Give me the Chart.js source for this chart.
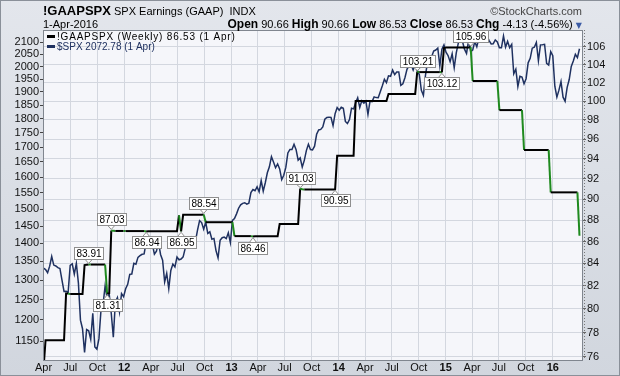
<!DOCTYPE html>
<html><head><meta charset="utf-8">
<script src="https://cdn.jsdelivr.net/npm/chart.js@4.4.1/dist/chart.umd.min.js"></script>
<style>
html,body{margin:0;padding:0;background:#fff;}
#wrap{position:relative;width:620px;height:376px;overflow:hidden;}
#c{position:absolute;left:0;top:0;}
.h{position:absolute;white-space:nowrap;font-family:"Liberation Sans",Arial,sans-serif;color:#000;line-height:1;}
.h b{font-size:12px;}
.tri{font-family:"DejaVu Sans",sans-serif;font-size:8px;color:#3b5ba5;}
</style></head><body>
<div id="wrap">
<canvas id="c" width="620" height="376"></canvas>
<div class="h" style="left:43px;top:4px;font-size:13px;font-weight:bold;">!GAAPSPX</div>
<div class="h" style="left:114px;top:6px;font-size:11px;">SPX Earnings (GAAP)&nbsp; INDX</div>
<div class="h" style="right:38px;top:6px;font-size:11px;color:#444;">©StockCharts.com</div>
<div class="h" style="left:43px;top:19px;font-size:11px;">1-Apr-2016</div>
<div class="h" id="ohlc" style="right:38px;top:18px;font-size:11px;"></div>
</div>
<script>
// ---------- DATA ----------
const startDate = '2011-04-01';           // first weekly bar
const lastLabel = '1 Apr';
// S&P 500 weekly closes
const spx2011 = [1332.41,1328.17,1319.68,1337.38,1363.61,1340.20,1337.77,1333.27,1331.10,1300.16,1270.98,1271.50,1268.45,1339.67,1343.80,1316.14,1345.02,1292.28,1199.38,1178.81,1123.53,1176.80,1173.97,1154.23,1216.01,1136.43,1131.42,1155.46,1224.58,1238.25,1285.09,1253.23,1263.85,1215.65,1158.67,1244.28,1255.19,1219.66,1265.33,1257.60];
const spx2012 = [1277.81,1289.09,1315.38,1316.33,1344.90,1342.64,1361.23,1365.74,1369.63,1370.87,1404.17,1397.11,1408.47,1398.08,1370.26,1378.53,1403.36,1369.10,1353.39,1295.22,1317.82,1278.04,1325.66,1342.84,1335.02,1362.16,1354.68,1356.78,1362.66,1385.97,1390.99,1405.87,1418.16,1411.13,1406.58,1437.92,1465.77,1460.15,1440.67,1460.93,1428.59,1433.19,1411.94,1414.20,1379.85,1359.88,1409.15,1416.18,1418.07,1413.58,1430.15,1402.43];
const spx2013 = [1466.47,1472.05,1485.98,1502.96,1513.17,1517.93,1519.79,1515.60,1518.20,1551.18,1560.70,1556.89,1569.19,1553.28,1588.85,1555.25,1582.24,1614.42,1633.70,1667.47,1649.60,1630.74,1643.38,1626.73,1592.43,1606.28,1631.89,1680.19,1692.09,1691.65,1709.67,1691.42,1655.83,1663.50,1632.97,1655.17,1687.99,1709.91,1691.75,1690.50,1703.20,1744.50,1759.77,1761.64,1770.61,1798.18,1804.76,1805.81,1805.09,1775.32,1818.32,1841.40];
const spx2014 = [1831.37,1842.37,1838.70,1790.29,1782.59,1797.02,1838.63,1836.25,1859.45,1878.04,1841.13,1866.52,1857.62,1865.09,1815.69,1864.85,1863.40,1881.14,1878.48,1877.86,1900.53,1923.57,1949.44,1936.16,1962.87,1960.96,1985.44,1967.57,1978.22,1978.34,1925.15,1931.59,1955.06,1988.40,2003.37,2007.71,1985.54,2010.40,1982.85,1967.90,1906.13,1886.76,1964.58,2018.05,2031.92,2039.82,2063.50,2067.56,2075.37,2002.33,2070.65,2088.77];
const spx2015 = [2058.20,2044.81,2019.42,2051.82,1994.99,2055.47,2096.99,2110.30,2104.50,2071.26,2053.40,2108.10,2061.02,2066.96,2102.06,2081.18,2117.69,2108.29,2116.10,2122.73,2126.06,2107.39,2092.83,2094.11,2109.99,2101.49,2076.78,2076.62,2126.64,2079.65,2103.84,2077.57,2091.54,1970.89,1988.87,1921.22,1961.05,1958.03,1931.34,1951.36,2014.89,2033.11,2075.15,2079.36,2099.20,2023.04,2089.17,2090.11,2091.69,2012.37,2005.55,2060.99];
const spx2016 = [2043.94,1922.03,1880.33,1906.90,1940.24,1880.05,1864.78,1917.78,1948.05,1999.99,2022.19,2049.58,2035.94,2072.78];
// S&P 500 GAAP earnings, weekly
const eps2011 = [75.00,
 77.35,77.35,77.35,77.35,77.35,77.35,77.35,77.35,77.35,77.35,
 81.33,81.33,81.28,81.28,81.28,81.28,81.28,81.28,81.28,
 83.85,83.88,83.91,83.90,83.90,83.90,83.90,83.90,83.90,83.90,83.90,
 81.31,81.35,87.03,86.99,86.98,86.98,86.98,86.98,86.98];
const eps2012 = [86.97,86.97,86.97,86.97,86.97,86.97,86.97,86.97,86.97,86.97,
 86.94,
 86.96,86.96,86.96,86.96,86.96,86.96,86.96,86.96,86.96,86.96,86.96,86.96,86.96,86.96,86.96,
 88.45,86.95,
 88.50,88.50,88.50,88.50,88.50,88.50,88.50,88.50,88.50,88.50,
 88.54,
 87.80,87.80,87.80,87.80,87.80,87.80,87.80,87.80,87.80,87.80,87.80,87.80,87.80];
const eps2013 = [87.80,
 86.50,86.50,86.50,86.50,86.50,86.50,86.50,86.50,86.50,
 86.46,
 86.48,86.48,86.48,86.48,86.48,86.48,86.48,86.48,86.48,86.48,86.48,86.48,
 87.63,87.63,87.63,87.63,87.63,87.63,87.63,87.63,87.63,87.63,
 91.03,90.97,
 90.95,90.95,90.95,90.95,90.95,90.95,90.95,90.95,90.95,90.95,90.95,90.95,90.95,90.95,90.95,90.95,
 94.30];
const eps2014 = [94.30,94.30,94.30,94.30,94.30,94.30,94.30,94.30,
 100.00,100.00,100.00,100.00,100.00,100.00,100.00,100.00,100.00,100.00,100.00,100.00,100.00,100.00,100.00,100.00,
 100.76,100.76,100.76,100.76,100.76,100.76,100.76,100.76,100.76,100.76,100.76,100.76,100.76,100.76,
 103.21,
 103.15,103.15,103.15,103.15,103.15,103.15,103.15,103.15,103.15,103.15,103.15,
 103.12,105.85];
const eps2015 = [105.90,105.90,105.90,105.90,105.90,105.90,105.90,105.90,105.90,105.90,105.90,105.90,
 105.96,
 102.17,102.17,102.17,102.17,102.17,102.17,102.17,102.17,102.17,102.17,102.17,102.17,102.17,
 99.03,99.03,99.03,99.03,99.03,99.03,99.03,99.03,99.03,99.03,99.03,99.03,
 94.88,94.88,94.88,94.88,94.88,94.88,94.88,94.88,94.88,94.88,94.88,94.88,94.88,
 90.66];
const eps2016 = [90.66,90.66,90.66,90.66,90.66,90.66,90.66,90.66,90.66,90.66,90.66,90.66,90.66,86.53];
// dates of the price-label annotations on the earnings line
const epsLabelDates = ['2011-09-02','2011-11-04','2011-11-18','2012-03-16','2012-07-13','2012-09-28','2013-03-15','2013-08-23','2013-12-20','2014-09-26','2014-12-19','2015-03-27'];
// axes
const leftTicks = [1150,1200,1250,1300,1350,1400,1450,1500,1550,1600,1650,1700,1750,1800,1850,1900,1950,2000,2050,2100];
const rightTicks = [76,78,80,82,84,86,88,90,92,94,96,98,100,102,104,106];
const xTickDates = ['2011-04-01','2011-07-01','2011-10-01','2012-01-01','2012-04-01','2012-07-01','2012-10-01','2013-01-01','2013-04-01','2013-07-01','2013-10-01','2014-01-01','2014-04-01','2014-07-01','2014-10-01','2015-01-01','2015-04-01','2015-07-01','2015-10-01','2016-01-01'];
const xTickLabels = ['Apr','Jul','Oct','12','Apr','Jul','Oct','13','Apr','Jul','Oct','14','Apr','Jul','Oct','15','Apr','Jul','Oct','16'];

// ---------- BUILD ----------
const DAY0 = Date.UTC(2011,0,1);
function dayOf(s){const p=s.split('-').map(Number);return (Date.UTC(p[0],p[1]-1,p[2])-DAY0)/86400000;}
const spx = [].concat(spx2011,spx2012,spx2013,spx2014,spx2015,spx2016);
const eps = [].concat(eps2011,eps2012,eps2013,eps2014,eps2015,eps2016);
const d0 = dayOf(startDate);
const xs = spx.map((_,i)=>d0+7*i);
const n = eps.length;

// header values
(function(){
  const open = eps[n-2], close = eps[n-1];
  const hi = Math.max(open,close), lo = Math.min(open,close);
  const chg = close-open, pct = chg/open*100;
  document.getElementById('ohlc').innerHTML =
    '<b>Open</b> '+open.toFixed(2)+' <b>High</b> '+hi.toFixed(2)+' <b>Low</b> '+lo.toFixed(2)+
    ' <b>Close</b> '+close.toFixed(2)+' <b>Chg</b> '+chg.toFixed(2)+' ('+pct.toFixed(2)+'%) <span class="tri">▼</span>';
})();

const GRID = '#d3d7df';
const bgPlugin = {
  id:'bg',
  beforeDraw(chart){
    const ctx = chart.ctx, a = chart.chartArea, W = chart.width, H = chart.height;
    ctx.save();
    const g = ctx.createLinearGradient(0,0,0,H);
    g.addColorStop(0,'#e3e6ec'); g.addColorStop(1,'#d1d6de');
    ctx.fillStyle = g; ctx.fillRect(0,0,W,H);
    ctx.fillStyle = '#f5f6fa';
    ctx.fillRect(a.left,a.top,a.right-a.left,a.bottom-a.top);
    ctx.restore();
  },
  afterDraw(chart){
    const ctx = chart.ctx, a = chart.chartArea, W = chart.width, H = chart.height;
    const xS = chart.scales.x, yR = chart.scales.yR;
    ctx.save();
    // plot border
    ctx.strokeStyle = '#80868f'; ctx.lineWidth = 1;
    ctx.strokeRect(a.left+0.5, a.top+0.5, a.right-a.left-1, a.bottom-a.top);
    // right dotted axis
    ctx.setLineDash([1,2]); ctx.strokeStyle='#777';
    ctx.beginPath(); ctx.moveTo(a.right+1.5,a.top); ctx.lineTo(a.right+1.5,a.bottom); ctx.stroke();
    ctx.setLineDash([]);
    // outer frame
    ctx.strokeStyle = '#8a9099'; ctx.strokeRect(0.5,0.5,W-1,H-1);
    // price labels
    ctx.font = '10px "Liberation Sans", Arial, sans-serif';
    epsLabelDates.forEach(ds=>{
      const i = Math.round((dayOf(ds)-d0)/7);
      const v = eps[i];
      const prev = eps[i-1], next = eps[i+1];
      const above = v >= prev && v >= next;
      const px = xS.getPixelForValue(xs[i]), py = yR.getPixelForValue(v);
      const t = v.toFixed(2);
      const w = Math.round(ctx.measureText(t).width)+4, h = 12;
      const bx = Math.round(px - w/2)+0.5;
      const by = above ? Math.round(py-5-h)+0.5 : Math.round(py+5)+0.5;
      ctx.fillStyle='#fff'; ctx.strokeStyle='#8f8f8f'; ctx.lineWidth=1;
      ctx.beginPath();
      if(above){ctx.moveTo(px-3.5,by+h);ctx.lineTo(px,py-1);ctx.lineTo(px+3.5,by+h);}
      else{ctx.moveTo(px-3.5,by);ctx.lineTo(px,py+1);ctx.lineTo(px+3.5,by);}
      ctx.fill(); ctx.stroke();
      ctx.fillRect(bx,by,w,h); ctx.strokeRect(bx,by,w,h);
      ctx.fillStyle='#000'; ctx.textAlign='center'; ctx.textBaseline='middle';
      ctx.fillText(t, bx+w/2, by+h/2+0.5);
    });
    // legend
    ctx.textAlign='left'; ctx.textBaseline='middle';
    ctx.lineWidth = 3;
    ctx.strokeStyle='#000'; ctx.beginPath(); ctx.moveTo(47,36.5); ctx.lineTo(55,36.5); ctx.stroke();
    ctx.strokeStyle='#1f3160'; ctx.beginPath(); ctx.moveTo(47,46.5); ctx.lineTo(55,46.5); ctx.stroke();
    ctx.font = '10px "Liberation Sans", Arial, sans-serif';
    ctx.fillStyle='#000';
    if('letterSpacing' in ctx) ctx.letterSpacing='0.8px';
    ctx.fillText('!GAAPSPX (Weekly) '+eps[n-1].toFixed(2)+' ('+lastLabel+')', 57, 37);
    if('letterSpacing' in ctx) ctx.letterSpacing='0px';
    ctx.fillStyle='#1f3160';
    ctx.fillText('$SPX '+spx[n-1].toFixed(2)+' ('+lastLabel+')', 57, 47);
    ctx.restore();
  }
};

const FONT = '"Liberation Sans", Arial, sans-serif';
new Chart(document.getElementById('c'), {
  type:'line',
  data:{datasets:[
    {label:'!GAAPSPX', data: eps.map((v,i)=>({x:xs[i],y:v})), yAxisID:'yR',
     borderColor:'#000', borderWidth:2, pointRadius:0, tension:0, clip:0,
     segment:{borderColor: c => c.p1.parsed.y < c.p0.parsed.y ? '#1f8a1f' : '#000'}},
    {label:'$SPX', data: spx.map((v,i)=>({x:xs[i],y:v})), yAxisID:'yL',
     borderColor:'#1f3160', borderWidth:1.5, pointRadius:0, tension:0, clip:0}
  ]},
  options:{
    responsive:false, animation:false, events:[],
    layout:{padding:{top:30,left:0,right:0,bottom:0}},
    plugins:{legend:{display:false},tooltip:{enabled:false}},
    scales:{
      x:{type:'linear', min:88.3, max:1929,
         afterBuildTicks: ax => { ax.ticks = xTickDates.map(d=>({value:dayOf(d)})); },
         afterFit: ax => { ax.height = 16; },
         ticks:{autoSkip:false, maxRotation:0, padding:1, color:'#111',
           font: c => ({family:FONT, size:11, weight: /^\d+$/.test(xTickLabels[c.index]||'') ? 'bold':'normal'}),
           callback:(v,i)=>xTickLabels[i]},
         grid:{color:GRID, drawTicks:false, tickLength:0},
         border:{display:false}},
      yL:{type:'logarithmic', position:'left', min:1106.8, max:2152.7,
         afterBuildTicks: ax => { ax.ticks = leftTicks.map(v=>({value:v})); },
         afterFit: ax => { ax.width = 43; },
         ticks:{autoSkip:false, padding:1, color:'#111', font:{family:FONT,size:11}, callback:v=>String(v)},
         grid:{drawOnChartArea:false, tickLength:3, tickColor:'#444'},
         border:{display:false}},
      yR:{type:'logarithmic', position:'right', min:75.73, max:107.92,
         afterBuildTicks: ax => { ax.ticks = rightTicks.map(v=>({value:v})); },
         afterFit: ax => { ax.width = 37; },
         ticks:{autoSkip:false, padding:1, color:'#111', font:{family:FONT,size:11}, callback:v=>String(v)},
         grid:{color:GRID, tickLength:3, tickColor:'#666'},
         border:{display:false}}
    }
  },
  plugins:[bgPlugin]
});
</script>
</body></html>
